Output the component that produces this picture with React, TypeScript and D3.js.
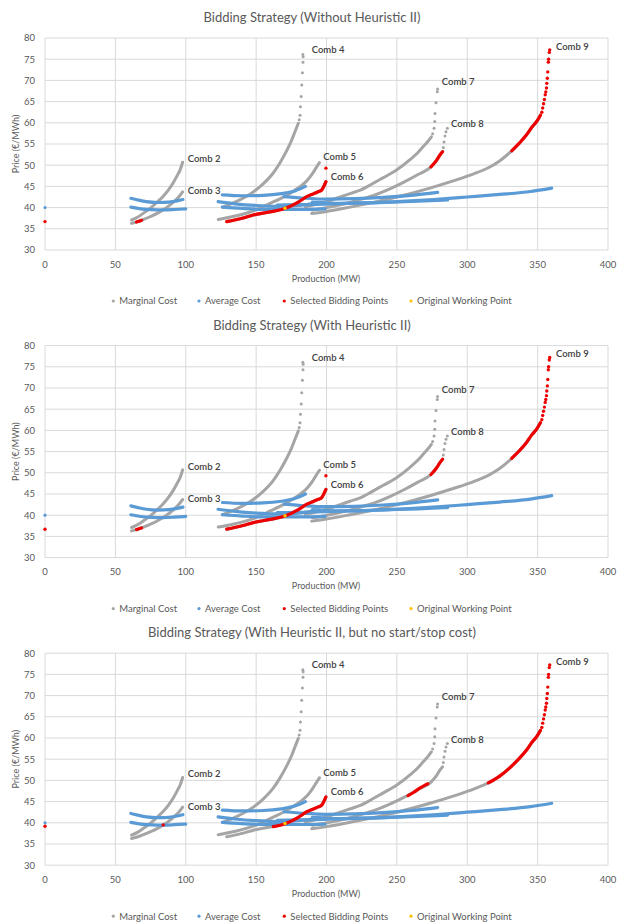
import React from 'react';
import * as d3 from 'd3';

// panel titles
const titles = [
  'Bidding Strategy (Without Heuristic II)',
  'Bidding Strategy (With Heuristic II)',
  'Bidding Strategy (With Heuristic II, but no start/stop cost)',
];

const legendLabels = ['Marginal Cost', 'Average Cost', 'Selected Bidding Points', 'Original Working Point'];

// marginal cost curves [production MW, price €/MWh]
const mc2 = [[61.5, 37.1], [66, 37.8], [70, 38.7], [75, 39.9], [80, 41.4], [84, 42.7], [88, 44.3], [91, 45.8], [94, 47.6], [96, 48.9], [97.8, 50.7]];
const mc3 = [[61.5, 36.3], [66, 36.7], [70, 37.2], [75, 37.9], [80, 38.7], [84, 39.5], [88, 40.4], [92, 41.5], [95, 42.5], [97.8, 43.7]];
const mc4 = [[126.2, 40.1], [135, 41.3], [148, 43.7], [155, 45.6], [162, 48.1], [167, 50.6], [172, 53.6], [175, 55.7], [177.6, 57.9], [180, 59.9]];
const mc4Tail = [[180.6, 60.7], [181.2, 61.8], [181.5, 63.8], [182, 66.2], [182.4, 68.9], [182.9, 71.8], [183.3, 74.3], [183.4, 75.6], [183.2, 76.1]];
const mc5 = [[123.1, 37.2], [135, 38.0], [148, 39.2], [160, 41.0], [170, 42.6], [177, 44.0], [181, 44.9], [186, 46.3], [190, 48.0], [193, 49.6], [195, 50.6]];
const mc6 = [[129.1, 36.7], [140, 37.5], [148, 38.25], [160, 39.0], [170.5, 39.8], [180, 41.3], [186, 42.6], [191, 43.3], [194.2, 43.75], [196.6, 44.15], [198.2, 45.1], [199.6, 46.1]];
const mc7 = [[185, 40.2], [200, 41.4], [216.7, 43.3], [224, 44.1], [232, 45.5], [240, 47.0], [250, 48.9], [259.3, 51.3], [265, 53.0], [269, 54.5], [272, 55.6], [274.5, 56.7]];
const mc7Tail = [[275.4, 57.4], [276.4, 58.7], [276.9, 60.3], [277.1, 62.2], [277.8, 64.7], [278.7, 67.3], [278.9, 68.0]];
const mc8 = [[190, 39.4], [205, 40.3], [216.7, 41.2], [225, 42.0], [233, 42.8], [245, 44.4], [255, 46.0], [265, 47.8], [274.2, 49.6], [278.3, 51.2], [280.6, 52.4], [282.5, 53.2]];
const mc8Tail = [[283, 54.2], [283.5, 55.5], [284.2, 56.9], [284.9, 57.9], [285.9, 58.7]];
const mc9 = [[189.5, 38.6], [200, 39.1], [215, 40.0], [230, 41.0], [250, 42.5], [273.5, 44.6], [290, 46.3], [305, 48.0], [315, 49.4], [323, 51.0], [331.6, 53.4], [337, 55.2], [342, 57.1], [346, 59.0], [349.3, 60.3], [352, 61.8]];

// average cost curves
const ac1 = [[0, 40.0]];
const ac2 = [[61, 42.2], [66, 41.8], [72, 41.4], [80, 41.2], [88, 41.3], [94, 41.6], [98, 41.9]];
const ac3 = [[61, 40.1], [68, 39.7], [76, 39.5], [84, 39.45], [92, 39.55], [100, 39.7]];
const ac4 = [[126, 43.0], [140, 42.8], [155, 42.9], [168, 43.3], [178, 44.0], [185, 45.0]];
const ac5 = [[123, 41.4], [135, 40.9], [150, 40.5], [165, 40.3], [180, 40.5], [195, 41.2]];
const ac6 = [[126, 40.1], [140, 39.8], [155, 39.6], [170, 39.6], [185, 39.6], [199, 39.7]];
const ac7 = [[170, 42.6], [185, 42.2], [200, 42.0], [220, 42.1], [240, 42.4], [260, 42.9], [279, 43.6]];
const ac8 = [[165, 40.6], [185, 40.7], [205, 40.9], [225, 41.1], [245, 41.3], [265, 41.5], [286, 41.8]];
const ac9 = [[190, 41.3], [210, 41.0], [230, 41.1], [250, 41.4], [276, 41.9], [300, 42.5], [323, 43.1], [345, 43.8], [360, 44.6]];

// selected bidding points, panels 1 and 2
const sel12Comb6 = mc6;
const sel12Comb8 = [[274.2, 49.6], [278.3, 51.2], [280.6, 52.4], [282.5, 53.2]];
const sel12Comb9 = [[331.6, 53.4], [337, 55.2], [342, 57.1], [346, 59.0], [349.3, 60.3], [352, 61.8]];
const sel12Comb3 = [[65, 36.6], [66.8, 36.8], [68.6, 37.0]];
const sel12Dots = [[0, 36.7], [199.6, 49.3]];

// selected bidding points, panel 3
const sel3Comb6 = [[162.2, 39.1], [170.5, 39.8], [180, 41.3], [186, 42.6], [191, 43.3], [194.2, 43.75], [196.6, 44.15], [198.2, 45.1], [199.6, 46.1]];
const sel3Comb8 = [[258, 46.4], [262, 47.2], [266, 48.1], [270, 48.9], [272, 49.2]];
const sel3Comb9 = [[315, 49.4], [323, 51.0], [331.6, 53.4], [337, 55.2], [342, 57.1], [346, 59.0], [349.3, 60.3], [352, 61.8]];
const sel3Dots = [[0, 39.2], [84, 39.5]];

// sparse top of comb 9 (selected in all panels)
const selComb9Tail = [[353, 62.5], [353.6, 63.5], [354.2, 64.5], [354.8, 65.5], [355.4, 66.6], [355.8, 67.3], [356.3, 68.2], [356.5, 69.3], [356.9, 70.5], [357.2, 72.0], [357.6, 74.3], [357.8, 75.0], [358.3, 76.6], [358.6, 77.2]];

const originalPoint = [[170.5, 39.85]];

// comb labels, anchored in data units
const combLabels = [
  { text: 'Comb 2', x: 101.4, y: 51.5 },
  { text: 'Comb 3', x: 101.4, y: 43.9 },
  { text: 'Comb 4', x: 189.5, y: 77.2 },
  { text: 'Comb 5', x: 197.7, y: 51.9 },
  { text: 'Comb 6', x: 203, y: 47.3 },
  { text: 'Comb 7', x: 281.9, y: 69.7 },
  { text: 'Comb 8', x: 288.5, y: 59.7 },
  { text: 'Comb 9', x: 363, y: 78 },
];

const panels = [
  { lines: [sel12Comb3, sel12Comb6, sel12Comb8, sel12Comb9], dots: [...sel12Dots, ...selComb9Tail] },
  { lines: [sel12Comb3, sel12Comb6, sel12Comb8, sel12Comb9], dots: [...sel12Dots, ...selComb9Tail] },
  { lines: [sel3Comb6, sel3Comb8, sel3Comb9], dots: [...sel3Dots, ...selComb9Tail] },
];

const GRAY = '#a5a5a5';
const BLUE = '#5b9bd5';
const RED = '#ee0000';
const ORANGE = '#ffc000';
const TEXT = '#595959';
const FONT = 'Lato, "Open Sans", sans-serif';

const Panel = ({ idx }) => {
  const off = idx * 307.6;
  const x = d3.scaleLinear().domain([0, 400]).range([45, 608]);
  const y = d3.scaleLinear().domain([30, 80]).range([250 + off, 38 + off]);
  const line = d3
    .line()
    .x((d) => x(d[0]))
    .y((d) => y(d[1]))
    .curve(d3.curveMonotoneX);
  const p = panels[idx];
  const marginal = [mc2, mc3, mc4, mc5, mc6, mc7, mc8, mc9];
  const marginalDots = [...mc4Tail, ...mc7Tail, ...mc8Tail];
  const average = [ac2, ac3, ac4, ac5, ac6, ac7, ac8, ac9];
  const legendX = [113.3, 199, 284.3, 411];
  const legendColors = [GRAY, BLUE, RED, ORANGE];

  return (
    <g fontFamily={FONT}>
      <text x={312} y={22 + off} textAnchor="middle" fontSize={13} fill={TEXT}>
        {titles[idx]}
      </text>
      {y.ticks(10).map((t) => (
        <g key={'y' + t}>
          <line x1={x(0)} x2={x(400)} y1={y(t)} y2={y(t)} stroke="#d9d9d9" strokeWidth={1} />
          <text x={35} y={y(t)} dy="0.35em" textAnchor="end" fontSize={9.5} fill={TEXT}>
            {t}
          </text>
        </g>
      ))}
      {x.ticks(8).map((t) => (
        <g key={'x' + t}>
          <line x1={x(t)} x2={x(t)} y1={y(30)} y2={y(80)} stroke="#d9d9d9" strokeWidth={1} />
          <text x={x(t)} y={y(30) + 14.5} dy="0.35em" textAnchor="middle" fontSize={9.5} fill={TEXT}>
            {t}
          </text>
        </g>
      ))}
      <text
        transform={`translate(16,${144 + off}) rotate(-90)`}
        textAnchor="middle"
        dy="0.35em"
        fontSize={9}
        fill={TEXT}
      >
        Price (€/MWh)
      </text>
      <text x={326} y={278.5 + off} dy="0.35em" textAnchor="middle" fontSize={9} fill={TEXT}>
        Production (MW)
      </text>

      {marginal.map((d, i) => (
        <path key={'mc' + i} d={line(d)} fill="none" stroke={GRAY} strokeWidth={3} strokeLinecap="round" />
      ))}
      {marginalDots.map((d, i) => (
        <circle key={'mcd' + i} cx={x(d[0])} cy={y(d[1])} r={1.5} fill={GRAY} />
      ))}
      {average.map((d, i) => (
        <path key={'ac' + i} d={line(d)} fill="none" stroke={BLUE} strokeWidth={3.2} strokeLinecap="round" />
      ))}
      {ac1.map((d, i) => (
        <circle key={'acd' + i} cx={x(d[0])} cy={y(d[1])} r={1.6} fill={BLUE} />
      ))}
      {p.lines.map((d, i) => (
        <path key={'sel' + i} d={line(d)} fill="none" stroke={RED} strokeWidth={3.2} strokeLinecap="round" />
      ))}
      {p.dots.map((d, i) => (
        <circle key={'seld' + i} cx={x(d[0])} cy={y(d[1])} r={1.7} fill={RED} />
      ))}
      {originalPoint.map((d, i) => (
        <circle key={'op' + i} cx={x(d[0])} cy={y(d[1])} r={1.8} fill={ORANGE} />
      ))}

      {combLabels.map((l) => (
        <text key={l.text} x={x(l.x)} y={y(l.y)} dy="0.35em" fontSize={9.5} fontWeight={600} fill="#404040">
          {l.text}
        </text>
      ))}

      {legendLabels.map((name, i) => (
        <g key={name}>
          <circle cx={legendX[i]} cy={301 + off} r={1.6} fill={legendColors[i]} />
          <text x={legendX[i] + 6} y={301 + off} dy="0.35em" fontSize={9.5} fill={TEXT}>
            {name}
          </text>
        </g>
      ))}
    </g>
  );
};

export default function App() {
  return (
    <svg
      width={617}
      height={923}
      style={{ position: 'absolute', left: 0, top: 0, background: '#fff' }}
    >
      <rect width={617} height={923} fill="#fff" />
      {[0, 1, 2].map((i) => (
        <Panel key={i} idx={i} />
      ))}
    </svg>
  );
}
